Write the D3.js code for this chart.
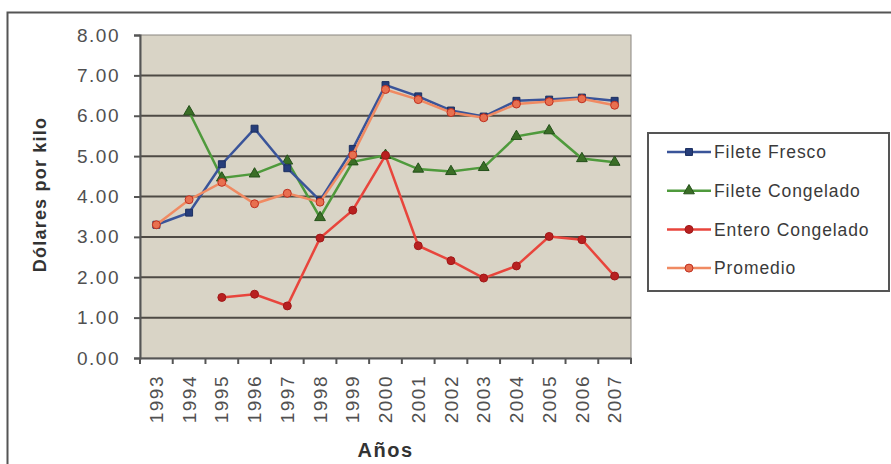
<!DOCTYPE html>
<html><head><meta charset="utf-8">
<script src="https://cdn.jsdelivr.net/npm/d3@7"></script>
<style>body{margin:0;background:#fff}svg{display:block}</style>
</head><body>
<svg id="c" width="891" height="464"></svg>
<script>
const years = ["1993","1994","1995","1996","1997","1998","1999","2000","2001","2002","2003","2004","2005","2006","2007"];
const fileteFresco = [3.30,3.60,4.80,5.68,4.70,3.90,5.18,6.76,6.48,6.13,5.98,6.37,6.40,6.45,6.37];
const fileteCongelado = [null,6.10,4.46,4.56,4.88,3.48,4.86,5.02,4.68,4.62,4.72,5.49,5.63,4.94,4.85];
const enteroCongelado = [null,null,1.50,1.58,1.29,2.97,3.66,5.02,2.78,2.41,1.98,2.28,3.01,2.93,2.03];
const promedio = [3.30,3.92,4.35,3.82,4.08,3.86,5.03,6.65,6.40,6.08,5.95,6.29,6.35,6.42,6.26];
const seriesNames = ["Filete Fresco","Filete Congelado","Entero Congelado","Promedio"];
const yTicks = [0,1,2,3,4,5,6,7,8];

const FONT = "Liberation Sans, Arial, sans-serif";
const svg = d3.select("#c");
const L=140,R=631,T=35,B=358;
const x = d3.scaleBand().domain(years).range([L,R]);
const y = d3.scaleLinear().domain([0,8]).range([B,T]);

// outer frame
svg.append("rect").attr("x",7.5).attr("y",12.5).attr("width",900).attr("height",470)
  .attr("fill","#fff").attr("stroke","#555").attr("stroke-width",2);

// plot background
svg.append("rect").attr("x",L).attr("y",T).attr("width",R-L).attr("height",B-T)
  .attr("fill","#d9d4c6").attr("stroke","#8a8680").attr("stroke-width",1);

// gridlines
svg.append("g").selectAll("line").data(yTicks.filter(d=>d>0 && d<8)).join("line")
  .attr("x1",L).attr("x2",R).attr("y1",d=>y(d)).attr("y2",d=>y(d))
  .attr("stroke","#4e4a44").attr("stroke-width",2);

// y axis
const ya = svg.append("g").attr("transform",`translate(${L},0)`)
  .call(d3.axisLeft(y).tickValues(yTicks).tickFormat(d3.format(".2f")).tickSize(6).tickPadding(14));
ya.select(".domain").attr("stroke","#555").attr("stroke-width",2);
ya.selectAll(".tick line").attr("stroke","#555").attr("stroke-width",2);
ya.selectAll("text").attr("font-family",FONT).attr("font-size",19).attr("letter-spacing",1.5).attr("fill","#505050");

// x axis
const xa = svg.append("g").attr("transform",`translate(0,${B})`)
  .call(d3.axisBottom(x).tickSize(0));
xa.select(".domain").attr("stroke","#555").attr("stroke-width",2);
xa.selectAll(".tick line").remove();
xa.selectAll("text").attr("font-family",FONT).attr("font-size",19).attr("letter-spacing",1.5).attr("fill","#505050")
  .attr("transform","rotate(-90)").attr("text-anchor","end").attr("dy","0.35em").attr("x",-17).attr("y",0);
// category boundary ticks
const bounds = years.map(d=>x(d)).concat([R]);
svg.append("g").selectAll("line").data(bounds).join("line")
  .attr("x1",d=>d).attr("x2",d=>d).attr("y1",B).attr("y2",B+6)
  .attr("stroke","#555").attr("stroke-width",2);

// axis titles
svg.append("text").attr("x",(L+R)/2).attr("y",457).attr("text-anchor","middle")
  .attr("font-family",FONT).attr("font-weight","bold").attr("font-size",20).attr("letter-spacing",1.5).attr("fill","#333").text("Años");
svg.append("text").attr("transform",`translate(46,${(T+B)/2-2}) rotate(-90)`).attr("text-anchor","middle")
  .attr("font-family",FONT).attr("font-weight","bold").attr("font-size",18).attr("letter-spacing",1.2).attr("fill","#333").text("Dólares por kilo");

const cx = d=>x(d)+x.bandwidth()/2;
const defs = [
  {name:seriesNames[0],data:fileteFresco,line:"#3a5499",mark:"square",mfill:"#263d7a",mstroke:"#1c2f60"},
  {name:seriesNames[1],data:fileteCongelado,line:"#4f9a3c",mark:"triangle",mfill:"#3a6e26",mstroke:"#24501a"},
  {name:seriesNames[2],data:enteroCongelado,line:"#e8453c",mark:"circle",mfill:"#b82020",mstroke:"#a01818"},
  {name:seriesNames[3],data:promedio,line:"#f08a62",mark:"circle",mfill:"#e87050",mstroke:"#c03020"}
];
const symType = {square:d3.symbolSquare,triangle:d3.symbolTriangle,circle:d3.symbolCircle};
const symSize = {square:48,triangle:50,circle:50};

const drawOrder = [1,2,0,3];
drawOrder.forEach(i=>{
  const s = defs[i];
  const pts = years.map((yr,j)=>({yr,v:s.data[j]})).filter(p=>p.v!=null);
  svg.append("path").datum(pts)
    .attr("d",d3.line().x(p=>cx(p.yr)).y(p=>y(p.v)))
    .attr("fill","none").attr("stroke",s.line).attr("stroke-width",2.5);
  svg.append("g").selectAll("path").data(pts).join("path")
    .attr("transform",p=>`translate(${cx(p.yr)},${y(p.v)})`)
    .attr("d",d3.symbol().type(symType[s.mark]).size(symSize[s.mark]))
    .attr("fill",s.mfill).attr("stroke",s.mstroke).attr("stroke-width",1);
});

// legend
const lg = svg.append("g");
lg.append("rect").attr("x",648).attr("y",133).attr("width",241).attr("height",158)
  .attr("fill","#fff").attr("stroke","#555").attr("stroke-width",2);
defs.forEach((s,i)=>{
  const yy = 152 + i*38.7;
  lg.append("line").attr("x1",667).attr("x2",711).attr("y1",yy).attr("y2",yy).attr("stroke",s.line).attr("stroke-width",2.5);
  lg.append("path").attr("transform",`translate(689,${yy})`)
    .attr("d",d3.symbol().type(symType[s.mark]).size(symSize[s.mark]))
    .attr("fill",s.mfill).attr("stroke",s.mstroke).attr("stroke-width",1);
  lg.append("text").attr("x",714).attr("y",yy).attr("dy","0.35em")
    .attr("font-family",FONT).attr("font-size",17.5).attr("letter-spacing",0.9).attr("fill","#3a3a3a").text(s.name);
});
</script>
</body></html>
